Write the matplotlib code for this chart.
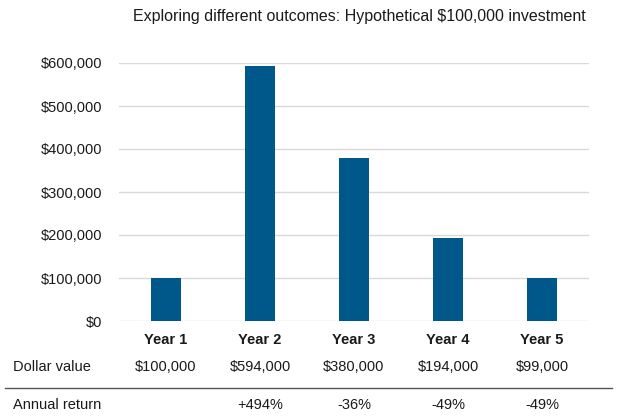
import matplotlib
matplotlib.use("Agg")
import matplotlib.pyplot as plt
from matplotlib.ticker import FuncFormatter
import matplotlib.transforms as mtransforms

plt.rcParams['font.family'] = ['Liberation Sans', 'DejaVu Sans']

categories = ["Year 1", "Year 2", "Year 3", "Year 4", "Year 5"]
values = [100000, 594000, 380000, 194000, 99000]
dollar_labels = ["$100,000", "$594,000", "$380,000", "$194,000", "$99,000"]
return_labels = ["", "+494%", "-36%", "-49%", "-49%"]
yticks = [0, 100000, 200000, 300000, 400000, 500000, 600000]
title = "Exploring different outcomes: Hypothetical $100,000 investment"

W, H = 624, 416
fig = plt.figure(figsize=(W / 100, H / 100), dpi=100)
ax = fig.add_axes([119 / W, (H - 321) / H, (589 - 119) / W, (321 - 63) / H])

x = list(range(len(categories)))
ax.bar(x, values, width=0.32, color="#00578A", zorder=3)
ax.set_xlim(-0.5, len(categories) - 0.5)
ax.set_ylim(0, 600000)
ax.set_yticks(yticks)
ax.yaxis.set_major_formatter(FuncFormatter(lambda v, p: "${:,.0f}".format(v)))
ax.grid(axis="y", color="#d9d9d9", linewidth=1.0, zorder=0)
ax.set_axisbelow(True)
for s in ax.spines.values():
    s.set_visible(False)
ax.tick_params(axis="y", length=0, pad=12, labelsize=10.5, labelcolor="#1a1a1a")
ax.set_xticks(x)
ax.set_xticklabels(categories, fontweight="bold", fontsize=10.5, color="#1a1a1a")
ax.tick_params(axis="x", length=0, pad=9)

trans = mtransforms.blended_transform_factory(ax.transData, fig.transFigure)
for i, (d, r) in enumerate(zip(dollar_labels, return_labels)):
    ax.text(i, 1 - 367 / H, d, transform=trans, ha="center", va="center",
            fontsize=10.5, color="#1a1a1a")
    if r:
        ax.text(i, 1 - 405 / H, r, transform=trans, ha="center", va="center",
                fontsize=10.5, color="#1a1a1a")

fig.text(13 / W, 1 - 367 / H, "Dollar value", ha="left", va="center",
         fontsize=10.5, color="#1a1a1a")
fig.text(13 / W, 1 - 405 / H, "Annual return", ha="left", va="center",
         fontsize=10.5, color="#1a1a1a")
fig.add_artist(plt.Line2D([5 / W, 612 / W], [1 - 388 / H, 1 - 388 / H],
                          transform=fig.transFigure, color="#555555", linewidth=1.0))

fig.text(359 / W, 1 - 17 / H, title, ha="center", va="center",
         fontsize=11.5, color="#1a1a1a")

fig.savefig("out.png", dpi=100)
